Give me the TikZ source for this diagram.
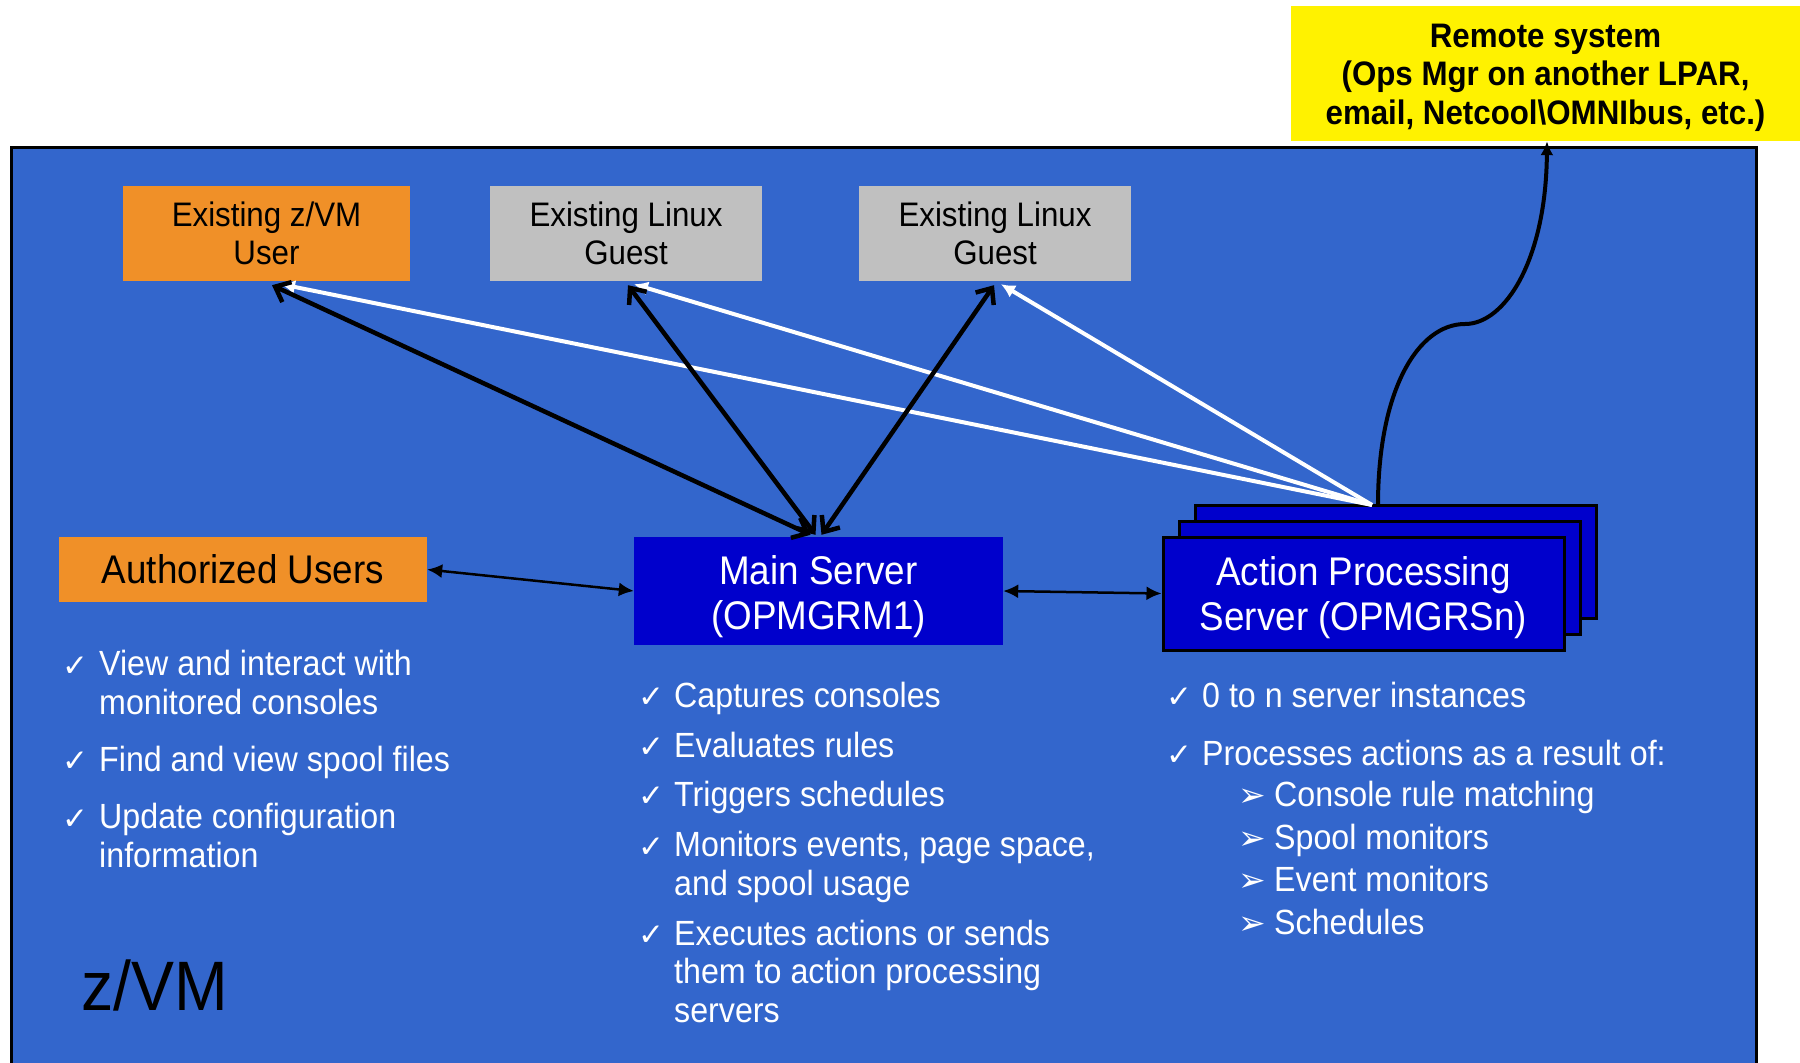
\documentclass[tikz,border=0pt]{standalone}
\usepackage{fontspec}
\setmainfont{Liberation Sans}[FakeStretch=0.92]
\newfontfamily\symfont{DejaVu Sans}
\usetikzlibrary{arrows.meta,calc}
\definecolor{zvmblue}{RGB}{51,102,204}
\definecolor{srvblue}{RGB}{0,0,204}
\definecolor{usrorange}{RGB}{240,144,40}
\definecolor{guestgray}{RGB}{192,192,192}
\tikzset{
  topbox/.style={rectangle, inner sep=0pt, align=center, text=black, minimum height=95,
     font=\fontsize{34}{38}\selectfont},
  bigbox/.style={rectangle, inner sep=0pt, align=center, font=\fontsize{40}{45}\selectfont},
  apsbox/.style={bigbox, fill=srvblue, draw=black, line width=3pt, minimum width=401, minimum height=113, text=white},
  bul/.style={anchor=base west, inner sep=0pt, align=left, text=white, font=\fontsize{35}{38.5}\selectfont},
  chk/.style={anchor=base west, inner sep=0pt, text=white, font=\symfont\fontsize{31}{33}\selectfont},
  arb/.style={anchor=base west, inner sep=0pt, text=white, font=\symfont\fontsize{33}{35}\selectfont},
  thickarrow/.style={line width=4.5pt, {Straight Barb[length=13pt,width=22pt]}-{Straight Barb[length=13pt,width=22pt]}},
  whiteline/.style={white, line width=4pt, -{Latex[length=14pt,width=14pt]}},
  thinarrow/.style={line width=2.5pt, {Latex[length=15pt,width=14pt]}-{Latex[length=15pt,width=14pt]}},
}
\begin{document}
\begin{tikzpicture}[x=1pt,y=-1pt]
\useasboundingbox (0,0) rectangle (1800,1063);
% z/VM frame
\fill[zvmblue] (11,147) rectangle (1756,1075);
\draw[line width=3pt] (11,1075) -- (11,147) -- (1756,147) -- (1756,1075);
% remote system
\node[rectangle, fill=yellow, inner sep=0pt, minimum width=509, minimum height=135, align=center,
      font=\bfseries\fontsize{34}{38.5}\selectfont] (remote) at (1545.5,73.5)
  {\rule{0pt}{32pt}Remote system\\(Ops Mgr on another LPAR,\\email, Netcool\textbackslash OMNIbus, etc.)};
% top boxes
\node[topbox, fill=usrorange, minimum width=287] (zvmuser) at (266.5,233.5) {Existing z/VM\\User};
\node[topbox, fill=guestgray, minimum width=272] (guest1) at (626,233.5) {Existing Linux\\Guest};
\node[topbox, fill=guestgray, minimum width=272] (guest2) at (995,233.5) {Existing Linux\\Guest};
% middle row
\node[bigbox, fill=usrorange, minimum width=368, minimum height=65, text=black] (auth) at (243,569.5) {Authorized Users};
\node[bigbox, fill=srvblue, minimum width=369, minimum height=108, text=white] (main) at (818.5,591) {\rule{0pt}{41pt}Main Server\\(OPMGRM1)};
\node[apsbox] (aps3) at (1395.5,561.5) {};
\node[apsbox] (aps2) at (1379.5,577.5) {};
\node[apsbox] (aps) at (1363.5,593.5) {\rule{0pt}{37pt}Action Processing\\Server (OPMGRSn)};
\coordinate (hub) at (1372,505);
\coordinate (apstop) at (1378,505);
% white lines from action servers
\draw[whiteline] (hub) -- ($(zvmuser.south)+(14.5,3)$);
\draw[whiteline] (hub) -- ($(guest1.south)+(8,3)$);
\draw[whiteline] (hub) -- ($(guest2.south)+(6,3)$);
% thick black arrows
\draw[thickarrow] ($(main.north)+(-8,-2)$) -- ($(zvmuser.south)+(5.5,4)$);
\draw[thickarrow] ($(main.north)+(-3,-2)$) -- ($(guest1.south)+(2,4)$);
\draw[thickarrow] ($(main.north)+(3,-2)$) -- ($(guest2.south)+(-1,4)$);
% thin arrows
\draw[thinarrow] (auth.east) -- (main.west);
\draw[thinarrow] (main.east) -- (aps.west);
% curve to remote
\draw[line width=4pt, -{Latex[length=14pt,width=13pt]}] (apstop)
  .. controls (1378,390) and (1418,324) .. (1465,324)
  .. controls (1505,324) and (1546,260) .. (remote.south -| 1547,0);
% left column
\node[chk] (c1) at (62,676) {✓};
\node[bul] (l1) at (99,714) {View and interact with\\monitored consoles};
\node[chk] (c2) at (62,771) {✓};
\node[bul] (l2) at (99,771) {Find and view spool files};
\node[chk] (c3) at (62,829) {✓};
\node[bul] (l3) at (99,867) {Update configuration\\information};
% middle column
\node[chk] (m1c) at (638,707) {✓};
\node[bul] (m1) at (674,707) {Captures consoles};
\node[chk] (m2c) at (638,757) {✓};
\node[bul] (m2) at (674,757) {Evaluates rules};
\node[chk] (m3c) at (638,806) {✓};
\node[bul] (m3) at (674,806) {Triggers schedules};
\node[chk] (m4c) at (638,857) {✓};
\node[bul] (m4) at (674,895) {Monitors events, page space,\\and spool usage};
\node[chk] (m5c) at (638,945) {✓};
\node[bul] (m5) at (674,1022) {Executes actions or sends\\them to action processing\\servers};
% right column
\node[chk] (r1c) at (1166,707) {✓};
\node[bul] (r1) at (1202,707) {0 to n server instances};
\node[chk] (r2c) at (1166,765) {✓};
\node[bul] (r2) at (1202,765) {Processes actions as a result of:};
\node[arb] (s1c) at (1238,806) {➢};
\node[bul] (s1) at (1274,806) {Console rule matching};
\node[arb] (s2c) at (1238,849) {➢};
\node[bul] (s2) at (1274,849) {Spool monitors};
\node[arb] (s3c) at (1238,891) {➢};
\node[bul] (s3) at (1274,891) {Event monitors};
\node[arb] (s4c) at (1238,934) {➢};
\node[bul] (s4) at (1274,934) {Schedules};
% z/VM label
\node[anchor=base west, inner sep=0pt, font=\fontsize{70}{72}\selectfont] (zvm) at (81,1010) {z/VM};
\end{tikzpicture}
\end{document}
